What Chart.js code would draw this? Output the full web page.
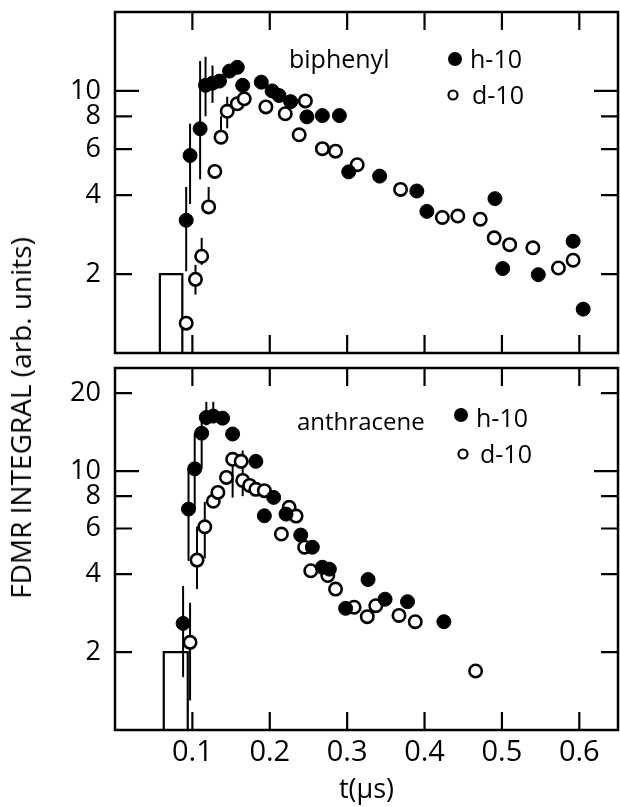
<!DOCTYPE html>
<html><head><meta charset="utf-8">
<script src="https://cdn.jsdelivr.net/npm/chart.js@4.4.1/dist/chart.umd.min.js"></script>
<style>
html,body{margin:0;padding:0;background:#fff;width:620px;height:807px;overflow:hidden;}
canvas{position:absolute;left:0;}
#cA{top:0;}
#cB{top:360px;}
#ytitle{position:absolute;left:20px;top:418px;transform:translate(-50%,-50%) rotate(-90deg);font:28px 'Open Sans';white-space:nowrap;color:#000;}
</style></head>
<body>
<canvas id="cA" width="620" height="362"></canvas>
<canvas id="cB" width="620" height="447"></canvas>
<div id="ytitle">FDMR INTEGRAL (arb. units)</div>
<script>
// ---- tick values / labels ----
const timeTicks = [0.1, 0.2, 0.3, 0.4, 0.5, 0.6];
const timeTickLabels = ['0.1', '0.2', '0.3', '0.4', '0.5', '0.6'];
const bipYTicks = [2, 4, 6, 8, 10];
const bipYTickLabels = ['2', '4', '6', '8', '10'];
const antYTicks = [2, 4, 6, 8, 10, 20];
const antYTickLabels = ['2', '4', '6', '8', '10', '20'];

// ---- biphenyl, h-10 (filled) ----
const bipH10T = [0.092, 0.097, 0.110, 0.117, 0.126, 0.135, 0.148, 0.158, 0.165, 0.189, 0.203, 0.212, 0.227, 0.248, 0.268, 0.290, 0.302, 0.342, 0.390, 0.403, 0.491, 0.501, 0.547, 0.592, 0.605];
const bipH10V = [3.21, 5.67, 7.17, 10.5, 10.7, 10.9, 11.9, 12.3, 10.5, 10.8, 10.0, 9.6, 9.1, 7.96, 8.05, 8.05, 4.91, 4.73, 4.15, 3.47, 3.88, 2.10, 1.99, 2.67, 1.47];
const bipH10Lo = [2.05, 3.7, 4.6, 8.0, 9.0, null, null, null, null, null, null, null, null, null, null, null, null, null, null, null, null, null, null, null, null];
const bipH10Hi = [4.3, 7.5, 13.0, 13.5, 12.5, null, null, null, null, null, null, null, null, null, null, null, null, null, null, null, null, null, null, null, null];

// ---- biphenyl, d-10 (open) ----
const bipD10T = [0.092, 0.104, 0.112, 0.121, 0.129, 0.137, 0.145, 0.158, 0.167, 0.195, 0.220, 0.246, 0.238, 0.268, 0.285, 0.313, 0.369, 0.423, 0.443, 0.472, 0.490, 0.510, 0.540, 0.573, 0.592];
const bipD10V = [1.30, 1.91, 2.34, 3.61, 4.93, 6.66, 8.36, 8.93, 9.33, 8.69, 8.18, 9.16, 6.80, 6.02, 5.89, 5.23, 4.21, 3.29, 3.33, 3.24, 2.75, 2.59, 2.52, 2.11, 2.26];
const bipD10Lo = [null, 1.67, 2.17, 3.61, null, 6.66, 7.2, null, null, null, null, null, null, null, null, null, null, null, null, null, null, null, null, null, null];
const bipD10Hi = [null, 2.17, 2.75, 4.3, null, 8.0, 9.5, null, null, null, null, null, null, null, null, null, null, null, null, null, null, null, null, null, null];

// ---- anthracene, h-10 (filled) ----
const antH10T = [0.088, 0.095, 0.103, 0.112, 0.118, 0.127, 0.139, 0.152, 0.182, 0.193, 0.205, 0.221, 0.240, 0.255, 0.268, 0.277, 0.298, 0.327, 0.349, 0.378, 0.425];
const antH10V = [2.58, 7.13, 10.2, 14.0, 16.1, 16.3, 16.0, 13.9, 10.9, 6.72, 7.91, 6.82, 5.66, 5.08, 4.25, 4.18, 2.95, 3.81, 3.20, 3.13, 2.62];
const antH10Lo = [1.6, 4.5, 7.2, 10.2, 15.0, 15.5, null, null, null, null, null, null, null, null, null, null, null, null, null, null, null];
const antH10Hi = [3.6, 10.2, 14.0, 16.0, 18.5, 18.5, null, null, null, null, null, null, null, null, null, null, null, null, null, null, null];

// ---- anthracene, d-10 (open) ----
const antD10T = [0.097, 0.106, 0.116, 0.127, 0.133, 0.144, 0.152, 0.163, 0.165, 0.174, 0.182, 0.193, 0.225, 0.234, 0.215, 0.245, 0.253, 0.275, 0.285, 0.309, 0.326, 0.337, 0.367, 0.388, 0.466];
const antD10V = [2.18, 4.53, 6.09, 7.64, 8.27, 9.45, 11.1, 10.9, 9.2, 8.8, 8.5, 8.4, 7.24, 6.7, 5.71, 5.08, 4.12, 3.95, 3.50, 2.98, 2.74, 3.02, 2.77, 2.62, 1.69];
const antD10Lo = [1.3, 3.5, 4.6, null, null, null, 7.9, null, 8.0, null, null, null, null, null, null, null, null, null, null, null, null, null, null, null, null];
const antD10Hi = [3.1, 6.1, 7.6, null, null, null, 11.1, null, 12.0, null, null, null, null, null, null, null, null, null, null, null, null, null, null, null, null];

// ---- excitation pulse outline ----
const bipPulseT = [0.058, 0.058, 0.087, 0.087];
const antPulseT = [0.063, 0.063, 0.094, 0.094];
const pulseV = [1, 2, 2, 1];

const FONT = "'Open Sans'";
const pts = (t, v) => t.map((x, i) => ({x: x, y: v[i]}));

const filledStyle = {backgroundColor: '#000', borderColor: '#000', pointRadius: 7, borderWidth: 1, showLine: false, order: 0};
const openStyle = {backgroundColor: '#fff', borderColor: '#000', pointRadius: 6.2, borderWidth: 2.6, showLine: false, order: 1};
const pulseStyle = {showLine: true, pointRadius: 0, borderColor: '#000', borderWidth: 2.2, fill: false, tension: 0, order: 2};

const framePlugin = {
  id: 'frame',
  beforeDatasetsDraw(chart) {
    const {ctx, scales: {x, y}} = chart;
    ctx.save();
    ctx.strokeStyle = '#000';
    ctx.lineWidth = 2;
    chart.data.datasets.forEach((ds) => {
      if (!ds.errLo) return;
      ds.data.forEach((p, i) => {
        const lo = ds.errLo[i], hi = ds.errHi[i];
        if (lo == null || hi == null) return;
        const px = x.getPixelForValue(p.x);
        ctx.beginPath();
        ctx.moveTo(px, y.getPixelForValue(lo));
        ctx.lineTo(px, y.getPixelForValue(hi));
        ctx.stroke();
      });
    });
    ctx.restore();
  },
  afterDraw(chart, args, opts) {
    const {ctx, chartArea: a, scales: {x, y}} = chart;
    ctx.save();
    ctx.strokeStyle = '#000';
    ctx.lineWidth = 2.5;
    ctx.strokeRect(a.left, a.top, a.right - a.left, a.bottom - a.top);
    ctx.lineWidth = 2.2;
    ctx.beginPath();
    timeTicks.forEach(t => {
      const px = x.getPixelForValue(t);
      ctx.moveTo(px, a.bottom); ctx.lineTo(px, a.bottom - 18);
      ctx.moveTo(px, a.top); ctx.lineTo(px, a.top + 18);
    });
    opts.yTicks.forEach(v => {
      const py = y.getPixelForValue(v);
      const L = v === 10 ? 24 : 17;
      ctx.moveTo(a.left, py); ctx.lineTo(a.left + L, py);
      ctx.moveTo(a.right, py); ctx.lineTo(a.right - L, py);
    });
    ctx.stroke();
    // annotation + key
    ctx.fillStyle = '#000';
    ctx.textBaseline = 'alphabetic';
    ctx.textAlign = 'left';
    ctx.font = opts.nameSize + 'px ' + FONT;
    ctx.fillText(opts.name, opts.nameX, opts.nameY);
    ctx.font = '25px ' + FONT;
    ctx.fillText('h-10', opts.hX, opts.hY);
    ctx.fillText('d-10', opts.dX, opts.dY);
    ctx.beginPath();
    ctx.arc(opts.hDotX, opts.hDotY, 7, 0, Math.PI * 2);
    ctx.fill();
    ctx.lineWidth = 2.2;
    ctx.beginPath();
    ctx.arc(opts.dDotX, opts.dDotY, 4.5, 0, Math.PI * 2);
    ctx.stroke();
    ctx.restore();
  }
};

function makeChart(id, cfg) {
  return new Chart(document.getElementById(id), {
    type: 'scatter',
    data: {datasets: [
      Object.assign({data: pts(cfg.hT, cfg.hV), errLo: cfg.hLo, errHi: cfg.hHi}, filledStyle),
      Object.assign({data: pts(cfg.dT, cfg.dV), errLo: cfg.dLo, errHi: cfg.dHi}, openStyle),
      Object.assign({data: pts(cfg.pT, pulseV)}, pulseStyle)
    ]},
    options: {
      responsive: false,
      animation: false,
      layout: {padding: cfg.padding, autoPadding: false},
      plugins: {legend: {display: false}, tooltip: {enabled: false}, frame: cfg.frame},
      scales: {
        x: {
          type: 'linear', min: 0, max: 0.65,
          afterBuildTicks: s => { s.ticks = timeTicks.map(v => ({value: v})); },
          afterFit: s => { s.height = cfg.xHeight; s.paddingLeft = 0; s.paddingRight = 0; s.paddingTop = 0; s.paddingBottom = 0; },
          grid: {display: false, drawTicks: false},
          border: {display: false},
          ticks: {display: cfg.showX, color: '#000', font: {family: FONT, size: 29}, padding: 5,
                  callback: (v, i) => timeTickLabels[i], maxRotation: 0, autoSkip: false},
          title: {display: cfg.showX, text: 't(μs)', color: '#000', font: {family: FONT, size: 27}, padding: {top: 0, bottom: 0}}
        },
        y: {
          type: 'logarithmic', min: 1, max: cfg.yMax,
          afterBuildTicks: s => { s.ticks = cfg.yTicks.map(v => ({value: v})); },
          afterFit: s => { s.width = 115; s.paddingTop = 0; s.paddingBottom = 0; s.paddingLeft = 0; s.paddingRight = 0; },
          grid: {display: false, drawTicks: false},
          border: {display: false},
          ticks: {color: '#000', font: {family: FONT, size: 27}, padding: 14,
                  callback: (v, i) => cfg.yLabels[i], autoSkip: false}
        }
      }
    },
    plugins: [framePlugin]
  });
}

makeChart('cA', {
  hT: bipH10T, hV: bipH10V, hLo: bipH10Lo, hHi: bipH10Hi,
  dT: bipD10T, dV: bipD10V, dLo: bipD10Lo, dHi: bipD10Hi,
  pT: bipPulseT, yMax: 20, yTicks: bipYTicks, yLabels: bipYTickLabels,
  padding: {top: 12, right: 2, bottom: 9, left: 0}, xHeight: 0, showX: false,
  frame: {yTicks: bipYTicks, name: 'biphenyl', nameSize: 25, nameX: 289, nameY: 68,
          hX: 470, hY: 68, dX: 472, dY: 104, hDotX: 455, hDotY: 59, dDotX: 453, dDotY: 95}
});

makeChart('cB', {
  hT: antH10T, hV: antH10V, hLo: antH10Lo, hHi: antH10Hi,
  dT: antD10T, dV: antD10V, dLo: antD10Lo, dHi: antD10Hi,
  pT: antPulseT, yMax: 25, yTicks: antYTicks, yLabels: antYTickLabels,
  padding: {top: 8, right: 2, bottom: 0, left: 0}, xHeight: 77, showX: true,
  frame: {yTicks: antYTicks, name: 'anthracene', nameSize: 24, nameX: 297, nameY: 70,
          hX: 476, hY: 67, dX: 480, dY: 103, hDotX: 461, hDotY: 55, dDotX: 463, dDotY: 94}
});
</script>
</body></html>
